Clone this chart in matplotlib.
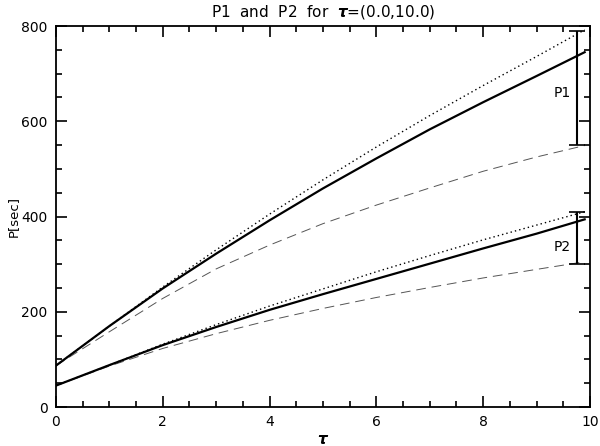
import numpy as np
import matplotlib
matplotlib.use("Agg")
import matplotlib.pyplot as plt
from matplotlib.ticker import MultipleLocator

# tau grid and period curves
tau = [0, 1, 2, 3, 4, 5, 6, 7, 8, 9, 9.9]

p1_solid = [87, 170, 249, 322, 392, 459, 522, 583, 640, 695, 745]
p1_dotted = [87, 170, 252, 330, 405, 477, 546, 612, 675, 736, 792]
p1_dashed = [87, 158, 228, 290, 340, 385, 424, 460, 495, 525, 549]

p2_solid = [45, 88, 130, 168, 204, 237, 269, 301, 333, 364, 394]
p2_dotted = [45, 88, 132, 173, 212, 248, 284, 318, 351, 382, 410]
p2_dashed = [45, 86, 123, 154, 182, 207, 230, 251, 271, 289, 305]

# vertical range bars at the right
bar_tau = 9.76
bar_low = [550, 300]
bar_high = [790, 410]
bar_labels = ["P1", "P2"]
label_y = [659, 337]

plt.rcParams['font.family'] = ['DejaVu Sans']

fig = plt.figure(figsize=(6.0, 4.46), dpi=100)
ax = fig.add_axes([0.0933, 0.0874, 0.89, 0.8543])

for solid, dotted, dashed in [(p1_solid, p1_dotted, p1_dashed),
                              (p2_solid, p2_dotted, p2_dashed)]:
    ax.plot(tau, dotted, color='black', lw=1.0, linestyle=(0, (1, 2.2)))
    ax.plot(tau, dashed, color='#555555', lw=0.7, linestyle=(0, (10, 6)))
    ax.plot(tau, solid, color='black', lw=1.6)

for lo, hi, lab, ly in zip(bar_low, bar_high, bar_labels, label_y):
    ax.errorbar([bar_tau], [(lo + hi) / 2], yerr=[[(hi - lo) / 2], [(hi - lo) / 2]],
                fmt='none', ecolor='black', elinewidth=1.5, capsize=6, capthick=1.2)
    ax.text(bar_tau - 0.12, ly, lab, ha='right', va='center', fontsize=10)

ax.set_xlim(0, 10)
ax.set_ylim(0, 800)
ax.xaxis.set_major_locator(MultipleLocator(2))
ax.xaxis.set_minor_locator(MultipleLocator(0.5))
ax.yaxis.set_major_locator(MultipleLocator(200))
ax.yaxis.set_minor_locator(MultipleLocator(50))
ax.tick_params(which='both', direction='in', top=True, right=True, width=1.2, labelsize=10)
ax.tick_params(which='major', length=8, pad=6)
ax.tick_params(which='minor', length=4)
for sp in ax.spines.values():
    sp.set_linewidth(1.3)

# IDL-style title: wider spacing between words
ax.set_title(r"P1  and  P2  for  $\boldsymbol{\tau}$=(0.0,10.0)", fontsize=11, pad=7)
ax.set_xlabel(r"$\boldsymbol{\tau}$", fontsize=11, labelpad=2)
ax.set_ylabel("P[sec]", fontsize=9.5, labelpad=1)

fig.savefig("out.png")
